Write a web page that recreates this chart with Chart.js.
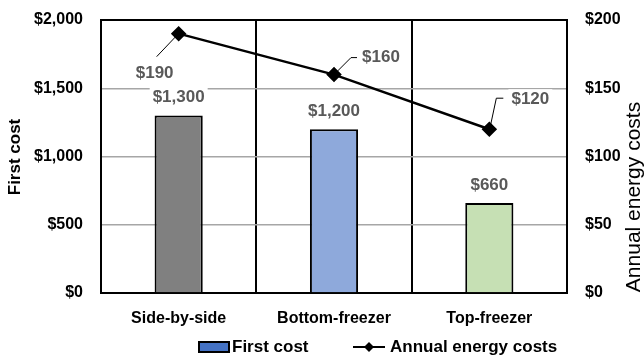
<!DOCTYPE html>
<html>
<head>
<meta charset="utf-8">
<script src="https://cdn.jsdelivr.net/npm/chart.js@4"></script>
<style>
  html, body { margin: 0; padding: 0; background: #fff; }
  canvas { display: block; }
</style>
</head>
<body>
<canvas id="chart" width="644" height="358"></canvas>
<script>
// data
const categories = ["Side-by-side", "Bottom-freezer", "Top-freezer"];
const firstCost = [1300, 1200, 660];
const energyCost = [190, 160, 120];
const barColors = ["#808080", "#8EA9DB", "#C6E0B4"];

const FONT = "'Liberation Sans', Arial, sans-serif";
const money = (v) => "$" + v.toLocaleString("en-US");

// label offsets for the line labels (dx, dy from point) + leader elbows
const lineLabelPos = [
  { dx: -24, dy: 40, leader: [[-3, 3], [-22, 23]] },
  { dx: 47, dy: -17, leader: [[3, -3], [17, -17], [23, -17]] },
  { dx: 41, dy: -30, leader: [[1, -3], [7, -31], [14, -31]] },
];

const labelBox = (ctx, text, x, y) => {
  ctx.font = "bold 17px " + FONT;
  const w = ctx.measureText(text).width;
  ctx.fillStyle = "#fff";
  ctx.fillRect(x - w / 2 - 3, y - 10, w + 6, 20);
  ctx.fillStyle = "#595959";
  ctx.textAlign = "center";
  ctx.textBaseline = "middle";
  ctx.fillText(text, x, y);
};

const extras = {
  id: "extras",
  beforeDatasetsDraw(chart) {
    const { ctx, chartArea: a } = chart;
    ctx.save();
    ctx.strokeStyle = "#000";
    ctx.lineWidth = 2;
    ctx.strokeRect(a.left, a.top, a.right - a.left, a.bottom - a.top);
    ctx.restore();
  },
  afterDatasetsDraw(chart) {
    const { ctx } = chart;
    ctx.save();
    // bar labels
    chart.getDatasetMeta(0).data.forEach((bar, i) => {
      labelBox(ctx, money(firstCost[i]), bar.x, bar.y - 18);
    });
    // line labels with leaders
    chart.getDatasetMeta(1).data.forEach((pt, i) => {
      const p = lineLabelPos[i];
      ctx.strokeStyle = "#000";
      ctx.lineWidth = 1;
      ctx.beginPath();
      p.leader.forEach(([lx, ly], j) => {
        if (j === 0) ctx.moveTo(pt.x + lx, pt.y + ly);
        else ctx.lineTo(pt.x + lx, pt.y + ly);
      });
      ctx.stroke();
      labelBox(ctx, money(energyCost[i]), pt.x + p.dx, pt.y + p.dy);
    });
    ctx.restore();
  },
  afterDraw(chart) {
    const { ctx } = chart;
    ctx.save();
    ctx.fillStyle = "#000";
    ctx.textAlign = "center";
    ctx.textBaseline = "middle";
    // axis titles
    ctx.save();
    ctx.translate(15, 157);
    ctx.rotate(-Math.PI / 2);
    ctx.font = "bold 17px " + FONT;
    ctx.fillText("First cost", 0, 0);
    ctx.restore();
    ctx.save();
    ctx.translate(634, 197);
    ctx.rotate(-Math.PI / 2);
    ctx.font = "21px " + FONT;
    ctx.fillText("Annual energy costs", 0, 0);
    ctx.restore();
    // legend
    const ly = 347;
    ctx.fillStyle = "#4472C4";
    ctx.fillRect(199, ly - 5, 30, 10);
    ctx.strokeStyle = "#000";
    ctx.lineWidth = 2;
    ctx.strokeRect(199, ly - 5, 30, 10);
    ctx.fillStyle = "#000";
    ctx.font = "bold 17px " + FONT;
    ctx.textAlign = "left";
    ctx.fillText("First cost", 232, ly);
    ctx.beginPath();
    ctx.moveTo(353, ly);
    ctx.lineTo(385, ly);
    ctx.stroke();
    ctx.beginPath();
    ctx.moveTo(369, ly - 5);
    ctx.lineTo(374, ly);
    ctx.lineTo(369, ly + 5);
    ctx.lineTo(364, ly);
    ctx.closePath();
    ctx.fill();
    ctx.fillText("Annual energy costs", 390, ly);
    ctx.restore();
  },
};

const tickFont = { family: FONT, size: 16, weight: "bold" };
const fitY = (w) => (s) => {
  s.width = w;
  s.paddingTop = 0;
  s.paddingBottom = 0;
};

new Chart(document.getElementById("chart"), {
  type: "bar",
  data: {
    labels: categories,
    datasets: [
      {
        label: "First cost",
        data: firstCost,
        backgroundColor: barColors,
        borderColor: "#000",
        borderWidth: 2,
        barPercentage: 0.31,
        categoryPercentage: 1,
        yAxisID: "y",
        order: 2,
      },
      {
        type: "line",
        label: "Annual energy costs",
        data: energyCost,
        borderColor: "#000",
        backgroundColor: "#000",
        borderWidth: 2.5,
        pointStyle: "rectRot",
        pointRadius: 6,
        yAxisID: "y1",
        order: 1,
      },
    ],
  },
  options: {
    responsive: false,
    animation: false,
    layout: { padding: { top: 20, left: 0, right: 0, bottom: 0 } },
    plugins: { legend: { display: false }, tooltip: { enabled: false } },
    scales: {
      x: {
        offset: true,
        grid: { color: "#000", lineWidth: 2, drawTicks: false, offset: true },
        border: { display: false },
        ticks: { color: "#000", font: tickFont, padding: 16 },
        afterFit: (s) => { s.height = 65; },
      },
      y: {
        position: "left",
        min: 0,
        max: 2000,
        ticks: { stepSize: 500, color: "#000", font: tickFont, padding: 18, callback: (v) => money(v) },
        grid: { color: "#A6A6A6", lineWidth: 1.5, drawTicks: false },
        border: { display: false },
        afterFit: fitY(101),
      },
      y1: {
        position: "right",
        min: 0,
        max: 200,
        ticks: { stepSize: 50, color: "#000", font: tickFont, padding: 18, callback: (v) => money(v) },
        grid: { display: false, drawTicks: false },
        border: { display: false },
        afterFit: fitY(77),
      },
    },
  },
  plugins: [extras],
});
</script>
</body>
</html>
